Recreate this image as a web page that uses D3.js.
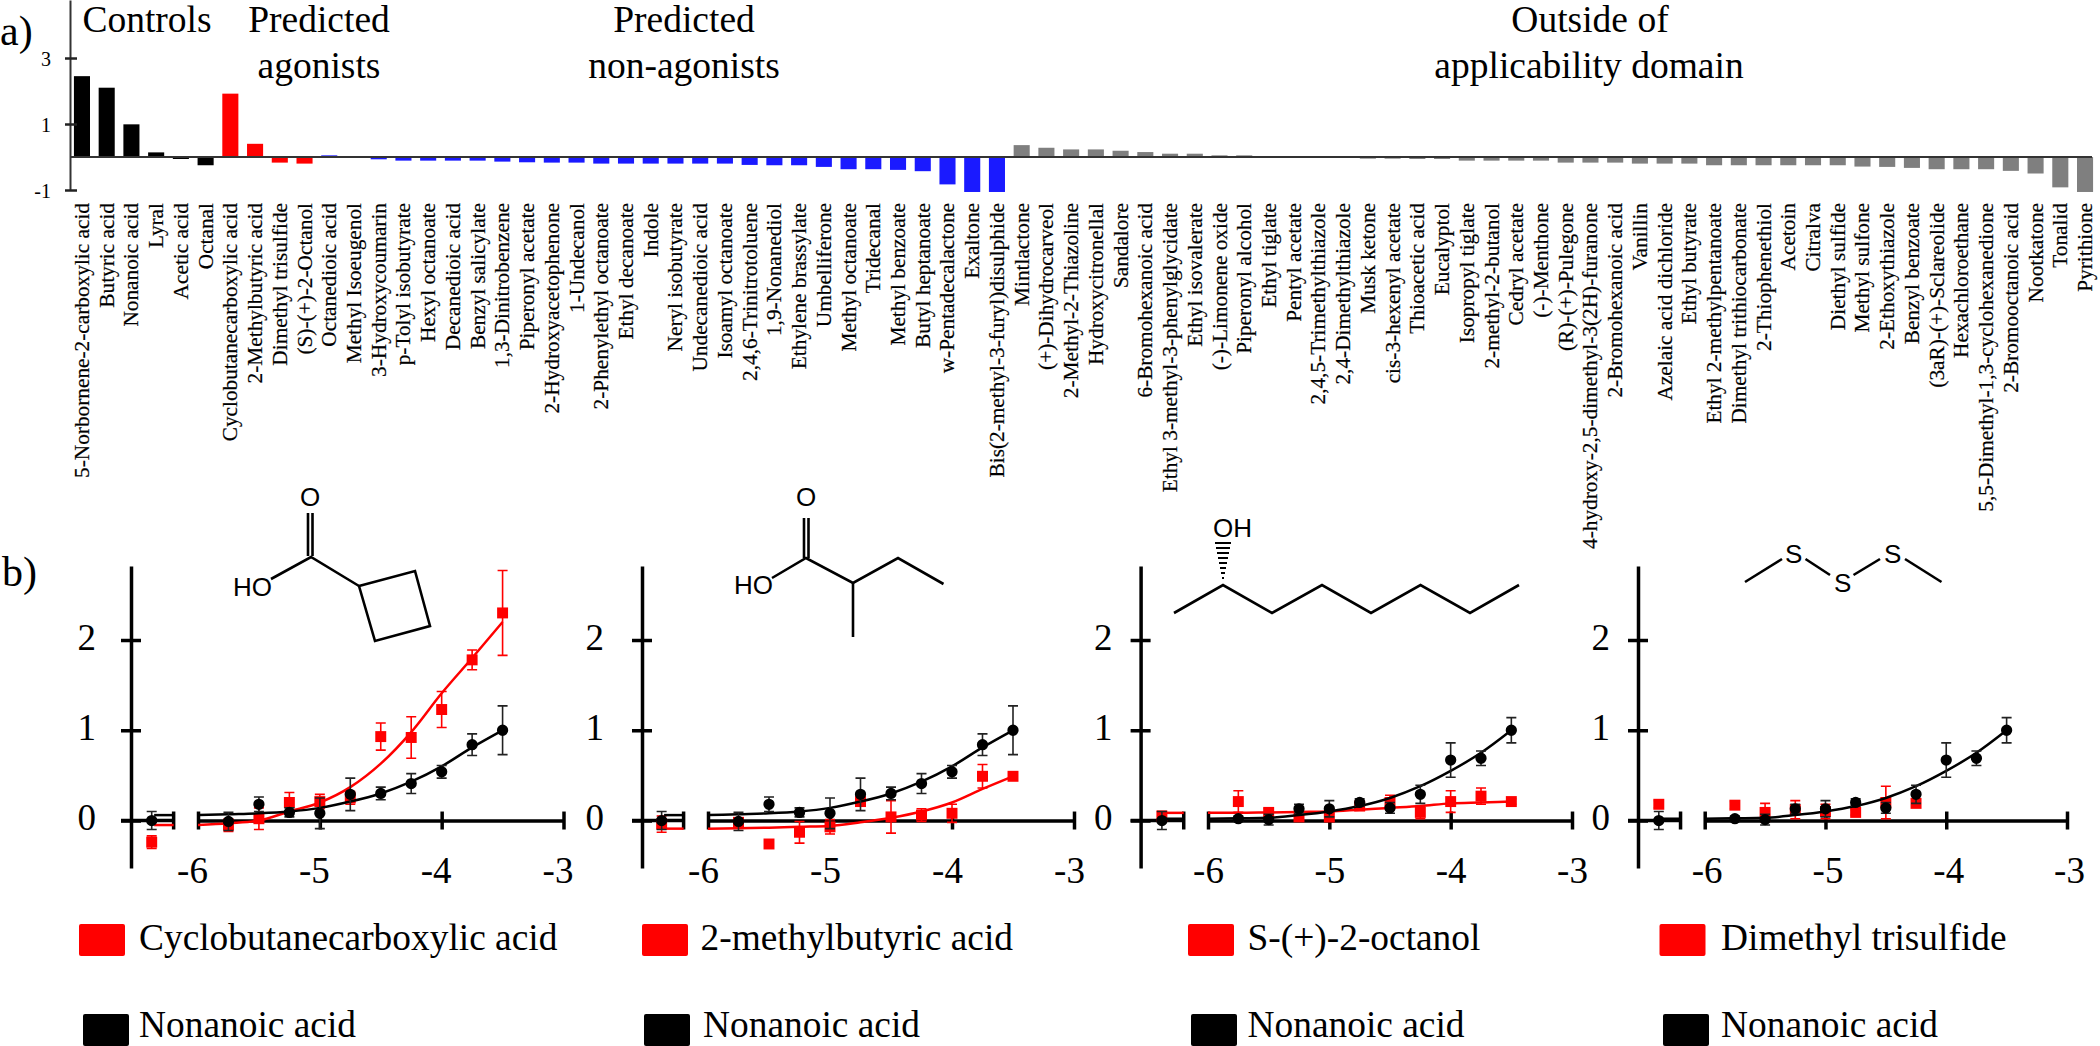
<!DOCTYPE html>
<html>
<head>
<meta charset="utf-8">
<script src="https://cdn.jsdelivr.net/npm/d3@7"></script>
<style>
html, body { margin: 0; padding: 0; background: #fff; }
svg { display: block; }
text { font-family: "Liberation Serif", serif; fill: #000; }
</style>
</head>
<body>
<svg class="figure" width="2100" height="1046"></svg>
<script>
'use strict';

// panel a
var compounds = [
    '5-Norbornene-2-carboxylic acid', 'Butyric acid', 'Nonanoic acid', 'Lyral', 'Acetic acid', 'Octanal',
    'Cyclobutanecarboxylic acid', '2-Methylbutyric acid', 'Dimethyl trisulfide', '(S)-(+)-2-Octanol',
    'Octanedioic acid', 'Methyl Isoeugenol', '3-Hydroxycoumarin', 'p-Tolyl isobutyrate', 'Hexyl octanoate',
    'Decanedioic acid', 'Benzyl salicylate', '1,3-Dinitrobenzene', 'Piperonyl acetate', '2-Hydroxyacetophenone',
    '1-Undecanol', '2-Phenylethyl octanoate', 'Ethyl decanoate', 'Indole', 'Neryl isobutyrate',
    'Undecanedioic acid', 'Isoamyl octanoate', '2,4,6-Trinitrotoluene', '1,9-Nonanediol', 'Ethylene brassylate',
    'Umbelliferone', 'Methyl octanoate', 'Tridecanal', 'Methyl benzoate', 'Butyl heptanoate',
    'w-Pentadecalactone', 'Exaltone', 'Bis(2-methyl-3-furyl)disulphide',
    'Mintlactone', '(+)-Dihydrocarveol', '2-Methyl-2-Thiazoline', 'Hydroxycitronellal', 'Sandalore',
    '6-Bromohexanoic acid', 'Ethyl 3-methyl-3-phenylglycidate', 'Ethyl isovalerate', '(-)-Limonene oxide',
    'Piperonyl alcohol', 'Ethyl tiglate', 'Pentyl acetate', '2,4,5-Trimethylthiazole', '2,4-Dimethylthiazole',
    'Musk ketone', 'cis-3-hexenyl acetate', 'Thioacetic acid', 'Eucalyptol', 'Isopropyl tiglate',
    '2-methyl-2-butanol', 'Cedryl acetate', '(-)-Menthone', '(R)-(+)-Pulegone',
    '4-hydroxy-2,5-dimethyl-3(2H)-furanone', '2-Bromohexanoic acid', 'Vanillin', 'Azelaic acid dichloride',
    'Ethyl butyrate', 'Ethyl 2-methylpentanoate', 'Dimethyl trithiocarbonate', '2-Thiophenethiol', 'Acetoin',
    'Citralva', 'Diethyl sulfide', 'Methyl sulfone', '2-Ethoxythiazole', 'Benzyl benzoate',
    '(3aR)-(+)-Sclareolide', 'Hexachloroethane', '5,5-Dimethyl-1,3-cyclohexanedione', '2-Bromooctanoic acid',
    'Nootkatone', 'Tonalid', 'Pyrithione'
];

var responses = [
    2.45, 2.1, 0.99, 0.14, -0.06, -0.25,
    1.92, 0.4, -0.17, -0.2,
    0.05, 0.005, -0.07, -0.11, -0.11, -0.11, -0.11, -0.14, -0.16, -0.17, -0.17, -0.2, -0.2, -0.2, -0.2,
    -0.2, -0.2, -0.24, -0.25, -0.25, -0.3, -0.37, -0.37, -0.39, -0.43, -0.83, -1.06, -1.06,
    0.36, 0.28, 0.23, 0.23, 0.19, 0.15, 0.1, 0.1, 0.05, 0.05, 0.02, 0.01, 0.005, -0.03, -0.05, -0.05,
    -0.06, -0.06, -0.11, -0.11, -0.11, -0.11, -0.17, -0.17, -0.17, -0.2, -0.2, -0.2, -0.25, -0.25, -0.25,
    -0.25, -0.25, -0.25, -0.29, -0.3, -0.33, -0.37, -0.37, -0.37, -0.42, -0.5, -0.92, -1.06
];

var groupSizes = [6, 4, 28, 44];
var groupColors = ['#000000', '#ff0000', '#1a1aff', '#7f7f7f'];
var responseTicks = [3, 1, -1];

// panel b
var concentrations = [-5.75, -5.5, -5.25, -5, -4.75, -4.5, -4.25, -4, -3.75, -3.5];
var controlConc = -6.38;
var fitConc = [-6, -5.75, -5.5, -5.25, -5, -4.75, -4.5, -4.25, -4, -3.75, -3.5];
var concTicks = [-6, -5, -4, -3];
var foldTicks = [0, 1, 2];

// nonanoic acid, the two runs shown in the first and the last two plots
var nonanoicA = [-0.01, 0.18, 0.09, 0.08, 0.29, 0.30, 0.41, 0.54, 0.84, 1.0];
var nonanoicAErr = [0.1, 0.08, 0.05, 0.17, 0.18, 0.07, 0.11, 0.07, 0.12, 0.27];
var nonanoicACtrl = [0, 0.1];
var nonanoicAFit = [0.06, 0.07, 0.08, 0.1, 0.14, 0.21, 0.3, 0.43, 0.6, 0.81, 1.0];

var nonanoicB = [0.02, 0.01, 0.13, 0.13, 0.2, 0.14, 0.29, 0.67, 0.69, 1.0];
var nonanoicBErr = [0.03, 0.06, 0.05, 0.09, 0.04, 0.06, 0.1, 0.19, 0.08, 0.14];
var nonanoicBCtrl = [0, 0.1];
var nonanoicBFit = [0.02, 0.025, 0.03, 0.06, 0.1, 0.16, 0.25, 0.38, 0.55, 0.75, 1.0];

var cyclobutane = [-0.05, 0.02, 0.2, 0.21, 0.25, 0.93, 0.92, 1.23, 1.78, 2.3];
var cyclobutaneErr = [0.07, 0.12, 0.11, 0.08, 0.07, 0.15, 0.23, 0.2, 0.11, 0.47];
var cyclobutaneCtrl = [-0.24, 0.07];
var cyclobutaneFit = [-0.05, -0.03, 0, 0.1, 0.2, 0.37, 0.63, 0.98, 1.41, 1.8, 2.2];

var methylbutyric = [-0.02, -0.26, -0.13, -0.07, 0.21, 0.04, 0.06, 0.08, 0.49, 0.49];
var methylbutyricErr = [0.03, 0.02, 0.12, 0.08, 0.05, 0.18, 0.07, 0.1, 0.13, 0.03];
var methylbutyricCtrl = [-0.04, 0.09];
var methylbutyricFit = [-0.09, -0.085, -0.08, -0.07, -0.06, -0.02, 0.03, 0.1, 0.2, 0.35, 0.49];

var octanol = [0.21, 0.09, 0.04, 0.04, 0.16, 0.2, 0.09, 0.21, 0.27, 0.21];
var octanolErr = [0.12, 0.04, 0.04, 0.05, 0.03, 0.08, 0.07, 0.12, 0.09, 0.03];
var octanolCtrl = [0.05, 0.05];
var octanolFit = [0.085, 0.085, 0.09, 0.095, 0.1, 0.12, 0.14, 0.16, 0.19, 0.2, 0.21];

var trisulfide = [0.17, 0.09, 0.12, 0.1, 0.09, 0.2, 0.19];
var trisulfideErr = [0.04, 0.1, 0.1, 0.08, 0.03, 0.18, 0.04];
var trisulfideCtrl = [0.18, 0.04];

var legendNames = ['Cyclobutanecarboxylic acid', '2-methylbutyric acid', 'S-(+)-2-octanol', 'Dimethyl trisulfide'];
var referenceName = 'Nonanoic acid';

var svg = d3.select('.figure');

function addText (parent, str, x, y, size, anchor) {
    return parent.append('text')
        .attr('x', x)
        .attr('y', y)
        .attr('text-anchor', anchor || 'start')
        .style('font-size', size + 'px')
        .text(str);
}

// ---- panel a ----
var barX = d3.scaleBand()
    .domain(compounds)
    .range([69.6, 2097.4])
    .paddingInner(0.35)
    .paddingOuter(0.175);

var barY = d3.scaleLinear()
    .domain([-1, 4.758])
    .range([190, 0]);

function groupColor (i) {
    var end = 0;
    for (var g = 0; g < groupSizes.length; g++) {
        end += groupSizes[g];
        if (i < end) return groupColors[g];
    }
}

var bars = svg.append('g');

bars.selectAll('rect')
    .data(compounds)
    .enter().append('rect')
    .attr('x', function (d) {return barX(d);})
    .attr('width', barX.bandwidth())
    .attr('y', function (d, i) {return Math.min(barY(responses[i]), barY(0));})
    .attr('height', function (d, i) {return Math.abs(barY(responses[i]) - barY(0));})
    .style('fill', function (d, i) {return groupColor(i);});

bars.selectAll('text')
    .data(compounds)
    .enter().append('text')
    .attr('transform', function (d) {
        return 'translate(' + (barX(d) + barX.bandwidth() / 2 + 7) + ',203) rotate(-90)';
    })
    .attr('text-anchor', 'end')
    .style('font-size', '21.3px')
    .style('stroke', '#000')
    .style('stroke-width', 0.2)
    .text(function (d) {return d;});

// baseline runs past the last bar
svg.append('line')
    .attr('x1', 70).attr('x2', 2092)
    .attr('y1', barY(0)).attr('y2', barY(0))
    .style('stroke', '#333').style('stroke-width', 2);

var barAxis = svg.append('g')
    .attr('transform', 'translate(70,0)')
    .call(d3.axisLeft(barY).tickValues(responseTicks).tickSizeOuter(0).tickFormat(function (d) {return d;}));

barAxis.select('.domain').style('stroke', '#333').style('stroke-width', 2);
barAxis.selectAll('.tick line').attr('x1', -5).attr('x2', 7).style('stroke', '#222').style('stroke-width', 2.5);
barAxis.selectAll('.tick text')
    .attr('x', -19).attr('dy', 7)
    .style('font-size', '20px').style('font-family', '"Liberation Serif", serif');

addText(svg, 'a)', 0, 45, 42);
addText(svg, 'Controls', 147, 32, 37.5, 'middle');
addText(svg, 'Predicted', 319, 32, 37.5, 'middle');
addText(svg, 'agonists', 319, 78, 37.5, 'middle');
addText(svg, 'Predicted', 684, 32, 37.5, 'middle');
addText(svg, 'non-agonists', 684, 78, 37.5, 'middle');
addText(svg, 'Outside of', 1590, 32, 37.5, 'middle');
addText(svg, 'applicability domain', 1589, 78, 37.5, 'middle');

// ---- panel b ----
addText(svg, 'b)', 2, 586, 42);

var foldY = d3.scaleLinear()
    .domain([-0.526, 2.82])
    .range([868, 566]);

var fitLine = d3.line().curve(d3.curveMonotoneX);

function drawSeries (g, x, color, marker, values, errs, ctrl, fit) {
    var s = g.append('g');
    var xs = concentrations.slice(0, values.length);

    if (fit) {
        s.append('path')
            .attr('d', fitLine(fitConc.map(function (c, i) {return [x(c), foldY(fit[i])];})))
            .style('fill', 'none').style('stroke', color).style('stroke-width', 2.5);
        s.append('path')
            .attr('d', fitLine([[x(controlConc + 0.02), foldY(fit[0])], [x(-6.2), foldY(fit[0])]]))
            .style('fill', 'none').style('stroke', color).style('stroke-width', 2.5);
    }

    var pts = xs.map(function (c, i) {return {c: c, v: values[i], e: errs[i]};});
    pts.unshift({c: controlConc, v: ctrl[0], e: ctrl[1]});

    var errColor = color === '#000000' ? '#222' : color;
    s.selectAll('.err').data(pts).enter().append('path')
        .attr('class', 'err')
        .attr('d', function (d) {
            var px = x(d.c), hi = foldY(d.v + d.e), lo = foldY(d.v - d.e);
            return 'M' + (px - 5) + ',' + hi + 'H' + (px + 5) + 'M' + px + ',' + hi + 'V' + lo + 'M' + (px - 5) + ',' + lo + 'H' + (px + 5);
        })
        .style('fill', 'none').style('stroke', errColor).style('stroke-width', 1.6);

    s.selectAll('.mark').data(pts).enter().append('path')
        .attr('class', 'mark')
        .attr('d', d3.symbol().type(marker).size(marker === d3.symbolSquare ? 120 : 100))
        .attr('transform', function (d) {return 'translate(' + x(d.c) + ',' + foldY(d.v) + ')';})
        .style('fill', color);
}

function drawPlot (p) {
    var x = d3.scaleLinear().domain([-6, -3]).range([p.left, p.right]);
    var g = svg.append('g');

    var axisX = g.append('g')
        .attr('transform', 'translate(0,' + foldY(0) + ')')
        .call(d3.axisBottom(x).tickValues(concTicks).tickSizeOuter(0).tickFormat(function (d) {return String(d);}));

    axisX.select('.domain').style('stroke', '#000').style('stroke-width', 3.5);
    axisX.selectAll('.tick line').attr('y1', -9).attr('y2', 9).style('stroke', '#000').style('stroke-width', 3.5);
    axisX.selectAll('.tick text')
        .attr('y', 62.5).attr('dy', 0).attr('dx', p.tickDx)
        .style('font-size', '37px').style('font-family', '"Liberation Serif", serif');

    // short stretch of the axis that carries the control, left of the break
    g.append('path')
        .attr('d', 'M' + (p.axis - 10) + ',' + foldY(0) + 'H' + x(-6.2) + 'M' + x(-6.2) + ',' + (foldY(0) - 9) + 'V' + (foldY(0) + 9))
        .style('fill', 'none').style('stroke', '#000').style('stroke-width', 3.5);

    var axisY = g.append('g')
        .attr('transform', 'translate(' + p.axis + ',0)')
        .call(d3.axisLeft(foldY).tickValues(foldTicks).tickSizeOuter(0).tickFormat(function (d) {return d;}));

    axisY.select('.domain').style('stroke', '#000').style('stroke-width', 3.5);
    axisY.selectAll('.tick line').attr('x1', -10).attr('x2', 10).style('stroke', '#000').style('stroke-width', 3.5);
    axisY.selectAll('.tick text')
        .attr('x', -p.labelGap).attr('dy', 9).attr('text-anchor', 'end')
        .style('font-size', '37px').style('font-family', '"Liberation Serif", serif');

    drawSeries(g, x, '#ff0000', d3.symbolSquare, p.red, p.redErr, p.redCtrl, p.redFit);
    drawSeries(g, x, '#000000', d3.symbolCircle, p.black, p.blackErr, p.blackCtrl, p.blackFit);

    // legend
    g.append('rect').attr('x', p.redKey).attr('y', 924).attr('width', 46).attr('height', 32).attr('rx', 2).style('fill', '#ff0000');
    addText(g, p.name, p.keyText, 950, 37.4);
    g.append('rect').attr('x', p.blackKey).attr('y', 1014).attr('width', 46).attr('height', 32).attr('rx', 2).style('fill', '#000');
    addText(g, referenceName, p.keyText + p.blackShift, 1037, 37.4);
}

drawPlot({
    axis: 131, left: 198, right: 563.5, tickDx: -6, labelGap: 35, name: legendNames[0], redKey: 79, blackKey: 83, keyText: 139, blackShift: 0,
    red: cyclobutane, redErr: cyclobutaneErr, redCtrl: cyclobutaneCtrl, redFit: cyclobutaneFit,
    black: nonanoicA, blackErr: nonanoicAErr, blackCtrl: nonanoicACtrl, blackFit: nonanoicAFit
});
drawPlot({
    axis: 642, left: 708, right: 1074, tickDx: -5, labelGap: 38, name: legendNames[1], redKey: 642, blackKey: 644, keyText: 700.5, blackShift: 2.5,
    red: methylbutyric, redErr: methylbutyricErr, redCtrl: methylbutyricCtrl, redFit: methylbutyricFit,
    black: nonanoicA, blackErr: nonanoicAErr, blackCtrl: nonanoicACtrl, blackFit: nonanoicAFit
});
drawPlot({
    axis: 1140.6, left: 1208, right: 1572, tickDx: 0, labelGap: 28, name: legendNames[2], redKey: 1188, blackKey: 1191, keyText: 1247.5, blackShift: 0,
    red: octanol, redErr: octanolErr, redCtrl: octanolCtrl, redFit: octanolFit,
    black: nonanoicB, blackErr: nonanoicBErr, blackCtrl: nonanoicBCtrl, blackFit: nonanoicBFit
});
drawPlot({
    axis: 1638, left: 1704.7, right: 2067, tickDx: 2, labelGap: 28, name: legendNames[3], redKey: 1659.5, blackKey: 1663, keyText: 1721, blackShift: 0,
    red: trisulfide, redErr: trisulfideErr, redCtrl: trisulfideCtrl, redFit: null,
    black: nonanoicB, blackErr: nonanoicBErr, blackCtrl: nonanoicBCtrl, blackFit: nonanoicBFit
});

// ---- structures ----
var mol = svg.append('g');

function bond (d, w) {
    mol.append('path').attr('d', d)
        .style('fill', 'none').style('stroke', '#000').style('stroke-width', w || 2.6).style('stroke-linejoin', 'miter');
}

function atom (str, x, y) {
    mol.append('text').attr('x', x).attr('y', y)
        .style('font-family', '"Liberation Sans", sans-serif').style('font-size', '26px').text(str);
}

// cyclobutanecarboxylic acid
atom('O', 300, 506);
atom('HO', 233, 596);
bond('M308,513V556M312.5,513V556');
bond('M271,579L311,557L359,586');
bond('M359,586L415,571L430,626L375,641Z');

// 2-methylbutyric acid
atom('O', 796, 506);
atom('HO', 734, 594);
bond('M804,518V558M808.5,518V558');
bond('M772,578L806,558L853,583L898,558L943.5,584');
bond('M853,583V637');

// (S)-2-octanol
atom('OH', 1213, 537);
bond('M1174,613L1223,585L1272,613L1322,585L1371,613L1420.5,585L1470,613L1519,585');
bond('M1215,543H1231M1216,548H1230M1217,553H1229M1218,558H1228M1219,563H1227M1220,568H1226M1221,573H1225M1222,578H1224', 2);

// dimethyl trisulfide
atom('S', 1785, 563);
atom('S', 1834, 592);
atom('S', 1884, 563);
bond('M1745,582L1782,559');
bond('M1805.5,559L1830,575');
bond('M1853.5,575L1880,559');
bond('M1905,559L1941.5,582');
</script>
</body>
</html>
